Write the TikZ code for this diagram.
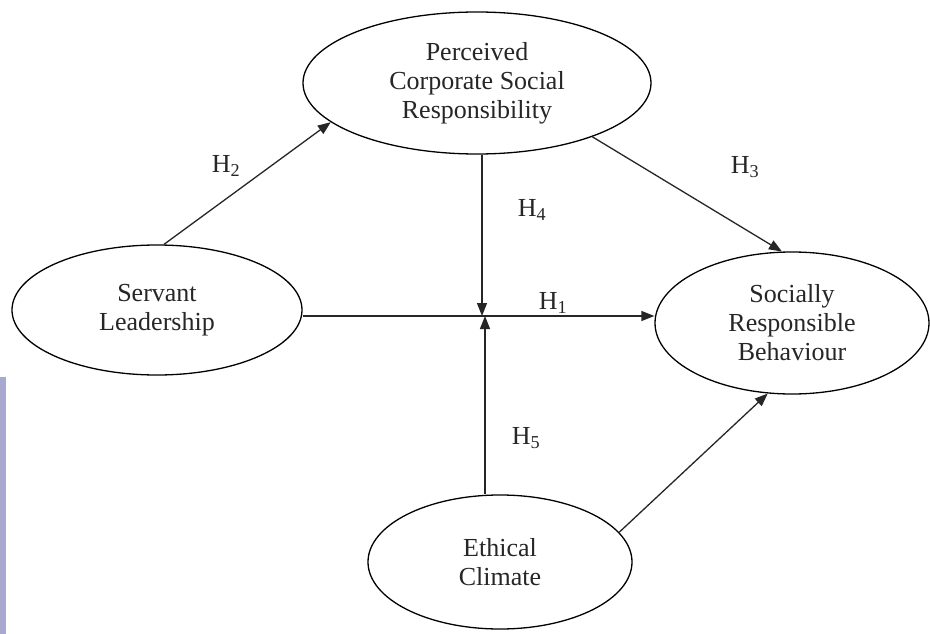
\documentclass[tikz,border=0pt]{standalone}
\usepackage{fontspec}
\setmainfont{Liberation Serif}
\usetikzlibrary{shapes.geometric,arrows.meta}
\definecolor{stripcol}{HTML}{A9A8CE}
\tikzset{
  construct/.style={draw=black, line width=1.3pt, ellipse, inner sep=0pt, align=center,
    font=\fontsize{26}{29}\selectfont, text=black!85},
  link/.style={draw=black!85, line width=1.3pt, -{Triangle[length=13pt,width=10pt]}},
  hyp/.style={font=\fontsize{26}{29}\selectfont, text=black!85, inner sep=0pt}
}
\begin{document}
\begin{tikzpicture}[x=1pt,y=-1pt]
\useasboundingbox[fill=white] (0,0) rectangle (930,634);
\fill[stripcol] (0,377) rectangle (6,634);
% constructs
\node[construct, minimum width=348pt, minimum height=142pt] (csr) at (477,83)
  {Perceived\\Corporate Social\\Responsibility};
\node[construct, minimum width=290pt, minimum height=130pt] (sl) at (157,310)
  {Servant\\Leadership};
\node[construct, minimum width=274pt, minimum height=142pt] (srb) at (792,323)
  {Socially\\Responsible\\Behaviour};
\node[construct, minimum width=264pt, minimum height=134pt] (ec) at (500,562)
  {Ethical\\Climate};
% junction points
\coordinate (j4) at (482,316);
\coordinate (j5) at (485,316);
% connectors
\draw[link] (sl.84.7) -- (csr.195.6);
\draw[link] (csr.-25.7) -- (srb.98);
\draw[link] (j4 |- csr.south) -- (j4);
\draw[link] (sl.east |- j4) -- (srb.west |- j4);
\draw[link] (j5 |- ec.north) -- (j5);
\draw[link] (ec.14.9) -- (srb.251.8);
% hypothesis labels
\node[hyp] (h2) at (226,166) {H\textsubscript{2}};
\node[hyp] (h3) at (745,167) {H\textsubscript{3}};
\node[hyp] (h4) at (532,210) {H\textsubscript{4}};
\node[hyp] (h1) at (553,303) {H\textsubscript{1}};
\node[hyp] (h5) at (526,438) {H\textsubscript{5}};
\end{tikzpicture}
\end{document}
